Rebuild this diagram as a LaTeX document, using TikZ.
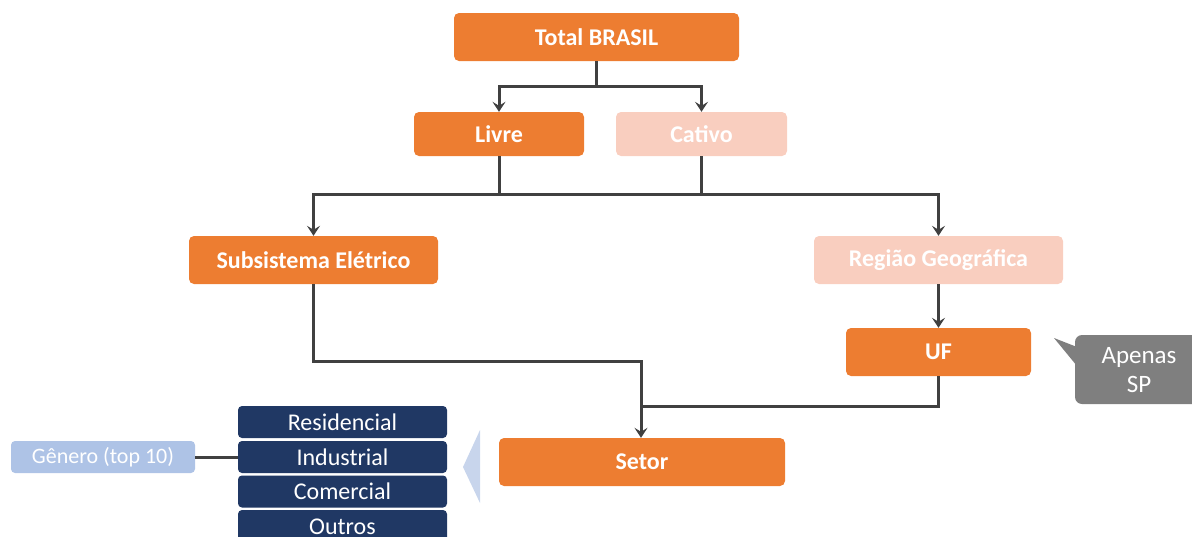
\documentclass[tikz,border=0pt]{standalone}
\usepackage{fontspec}
\setmainfont{Carlito}
\usetikzlibrary{arrows.meta}
\definecolor{orng}{HTML}{ED7D31}
\definecolor{pinkl}{HTML}{F9CEBF}
\definecolor{navy}{HTML}{203864}
\definecolor{lblue}{HTML}{AEC3E6}
\definecolor{tblue}{HTML}{C8D5EC}
\definecolor{gry}{HTML}{7F7F7F}
\definecolor{lnc}{HTML}{404040}
\tikzset{
  box/.style={rounded corners=5pt, inner sep=0pt, text=white, font=\fontsize{24}{26}\selectfont\bfseries, anchor=center},
  obox/.style={box, fill=orng},
  pbox/.style={box, fill=pinkl},
  nbox/.style={rounded corners=4pt, fill=navy, inner sep=0pt, text=white, font=\fontsize{24}{26}\selectfont, minimum width=209pt, minimum height=32pt},
  conn/.style={draw=lnc, line width=3pt},
  arr/.style={conn, -{Stealth[length=10pt,width=13pt,inset=4pt]}},
}
\begin{document}
\begin{tikzpicture}[x=1pt,y=-1pt]
\useasboundingbox (0,0) rectangle (1192,536);
\clip (0,0) rectangle (1192,536);
\node[obox, minimum width=285pt, minimum height=48pt] (total) at (596.5,37) {Total BRASIL};
\node[obox, minimum width=170pt, minimum height=44pt] (livre) at (499,134) {Livre};
\node[pbox, minimum width=171pt, minimum height=44pt] (cativo) at (701.5,134) {Cativo};
\node[obox, minimum width=249pt, minimum height=48pt] (sub) at (313.5,260) {Subsistema Elétrico};
\node[pbox, minimum width=249pt, minimum height=48pt] (reg) at (938.5,260) {Região Geográfica};
\node[obox, minimum width=185pt, minimum height=48pt] (uf) at (938.5,352) {UF};
\node[obox, minimum width=286pt, minimum height=48pt] (setor) at (642,462) {Setor};
% navy boxes
\node[nbox] (res) at (342.5,422) {Residencial};
\node[nbox] (ind) at (342.5,457) {Industrial};
\node[nbox] (com) at (342.5,491.5) {Comercial};
\node[nbox, minimum height=34pt] (out) at (342.5,527) {Outros};
\node[rounded corners=4pt, fill=lblue, inner sep=0pt, text=white, font=\fontsize{22}{24}\selectfont, minimum width=184pt, minimum height=32pt] (gen) at (103,457) {Gênero (top 10)};
\draw[conn] (gen.east) -- (ind.west);
% triangle
\fill[tblue] (463,467) -- (480,430) -- (480,503) -- cycle;
% callout
\fill[gry, rounded corners=7pt] (1075,335) rectangle (1215,404);
\fill[gry] (1054,338) -- (1077,347) -- (1077,366) -- cycle;
\node[text=white, font=\fontsize{25}{29}\selectfont, align=center] (sp) at (1139,370) {Apenas\\SP};
% connectors
\coordinate (j1) at (596.5,86);
\coordinate (j2) at (600,194);
\coordinate (m1) at (641,361);
\coordinate (m2) at (641,406);
\draw[conn] (total.south) -- (j1);
\draw[arr] (j1) -| (livre.north);
\draw[arr] (j1) -| (cativo.north);
\draw[conn] (livre.south) |- (j2);
\draw[conn] (cativo.south) |- (j2);
\draw[arr] (j2) -| (sub.north);
\draw[arr] (j2) -| (reg.north);
\draw[arr] (reg.south) -- (uf.north);
\draw[arr] (sub.south) |- (m1) -- (m1 |- setor.north);
\draw[conn] (uf.south) |- (m2);
\end{tikzpicture}
\end{document}
